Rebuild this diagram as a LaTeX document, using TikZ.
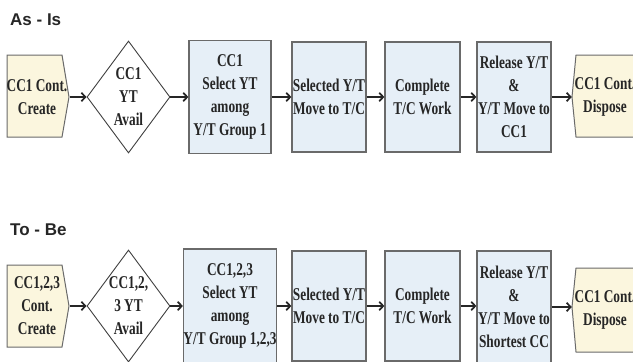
\documentclass[tikz,border=0pt]{standalone}
\usepackage{fontspec}
\setmainfont{Liberation Serif}
\newfontfamily\condf{Liberation Serif}[FakeStretch=0.74]
\newfontfamily\titlef{Liberation Sans}
\usetikzlibrary{shapes.geometric,arrows.meta}
\definecolor{boxblue}{HTML}{E6EFF7}
\definecolor{boxyel}{HTML}{FBF6DE}
\definecolor{edgegray}{HTML}{6A6A6A}
\definecolor{txtcol}{HTML}{262626}
\begin{document}
\begin{tikzpicture}[x=1pt,y=-1pt,
  txt/.style={font=\condf\bfseries\fontsize{18}{23}\selectfont, align=center, text=txtcol, inner sep=0pt},
  proc/.style={txt, draw=edgegray, line width=1.2pt, fill=boxblue},
  term/.style={draw=edgegray, line width=1pt, fill=boxyel},
  dia/.style={diamond, draw=black!75, line width=0.9pt, fill=white, minimum width=83, minimum height=112, inner sep=0pt},
  arr/.style={draw=black!85, line width=1.7pt, -{Straight Barb[length=4pt,width=8.5pt]}},
  ttl/.style={font=\titlef\bfseries\fontsize{17}{19}\selectfont, text=black!85, inner sep=0pt, anchor=base west}
]
\useasboundingbox (0,0) rectangle (633,362);
\clip (0,0) rectangle (633,362);
\fill[white] (0,0) rectangle (633,362);

% ---------- As - Is ----------
\node[ttl] (t1) at (10,25) {As - Is};
\draw[term] (7,55) -- (62,55) -- (69,97) -- (62,137) -- (7,137) -- cycle;
\node[txt, minimum width=65, minimum height=82] (ca) at (37,97) {CC1 Cont.\\Create};
\node[dia] (da) at (128.5,97) {};
\node[txt] (dat) at (128.5,97) {CC1\\YT\\Avail};
\node[proc, minimum width=82, minimum height=113] (ba) at (230,97) {CC1\\Select YT\\among\\Y/T Group 1};
\node[proc, minimum width=74, minimum height=110] (bb) at (329,97) {Selected Y/T\\Move to T/C};
\node[proc, minimum width=75, minimum height=110] (bc) at (422.5,97) {Complete\\T/C Work};
\node[proc, minimum width=74, minimum height=110] (bd) at (514,97) {Release Y/T\\\&\\Y/T Move to\\CC1};
\draw[term] (640,55) -- (576,55) -- (572,97) -- (576,137) -- (640,137) -- cycle;
\node[txt, minimum width=66, minimum height=82] (ea) at (605,97) {CC1 Cont.\\Dispose};

\draw[arr] (ca) -- (da);
\draw[arr] (da) -- (ba);
\draw[arr] (ba) -- (bb);
\draw[arr] (bb) -- (bc);
\draw[arr] (bc) -- (bd);
\draw[arr] (bd) -- (ea);

% ---------- To - Be ----------
\node[ttl] (t2) at (10,235) {To - Be};
\draw[term] (7,265) -- (62,265) -- (69,306) -- (62,347) -- (7,347) -- cycle;
\node[txt, minimum width=65, minimum height=82] (cb) at (37,306) {CC1,2,3\\Cont.\\Create};
\node[dia] (db) at (128.5,306) {};
\node[txt] (dbt) at (128.5,306) {CC1,2,\\3 YT\\Avail};
\node[proc, minimum width=83, minimum height=114] (ab2) at (230,306) {CC1,2,3\\Select YT\\among\\Y/T Group 1,2,3};
\node[proc, minimum width=74, minimum height=110] (bb2) at (329,306) {Selected Y/T\\Move to T/C};
\node[proc, minimum width=75, minimum height=110] (bc2) at (422.5,306) {Complete\\T/C Work};
\node[proc, minimum width=74, minimum height=112] (bd2) at (514,307) {Release Y/T\\\&\\Y/T Move to\\Shortest CC};
\draw[term] (640,268) -- (576,268) -- (572,307) -- (576,352) -- (640,352) -- cycle;
\node[txt, minimum width=66, minimum height=84] (eb) at (605,310) {CC1 Cont.\\Dispose};

\draw[arr] (cb) -- (db);
\draw[arr] (db) -- (ab2);
\draw[arr] (ab2) -- (bb2);
\draw[arr] (bb2) -- (bc2);
\draw[arr] (bc2.east) -- (bc2.east -| bd2.west);
\draw[arr] (bd2.east) -- (bd2.east -| eb.west);
\end{tikzpicture}
\end{document}
